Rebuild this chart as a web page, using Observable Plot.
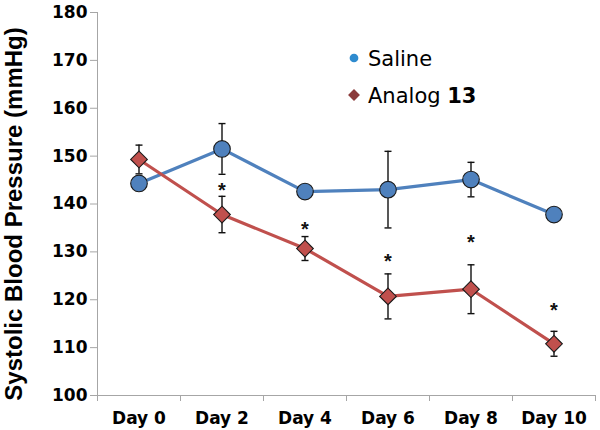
<!DOCTYPE html>
<html>
<head>
<meta charset="utf-8">
<script src="https://cdn.jsdelivr.net/npm/d3@7"></script>
<script src="https://cdn.jsdelivr.net/npm/@observablehq/plot@0.6"></script>
<style>
  html, body { margin: 0; padding: 0; background: #fff; }
  #wrap { position: relative; width: 600px; height: 430px; }
  #legend { position: absolute; left: 0; top: 0; pointer-events: none; }
</style>
</head>
<body>
<div id="wrap"></div>
<script>
const days = ["Day 0", "Day 2", "Day 4", "Day 6", "Day 8", "Day 10"];
const salineMean = [144.3, 151.5, 142.6, 143.0, 145.1, 137.8];
const salineErr  = [0.8, 5.3, 1.0, 8.0, 3.6, 0.6];
const analogMean = [149.3, 137.8, 130.7, 120.7, 122.2, 110.8];
const analogErr  = [3.0, 3.8, 2.5, 4.7, 5.1, 2.6];
const starDays = ["Day 2", "Day 4", "Day 6", "Day 8", "Day 10"];
const starY = [143.9, 135.7, 129.1, 133.0, 118.7];
const yTicks = [100, 110, 120, 130, 140, 150, 160, 170, 180];
const yTitle = "Systolic Blood Pressure (mmHg)";

const blue = "#4f81bd", red = "#c0504d", axisGray = "#a6a6a6";
const tickFont = "'DejaVu Sans', sans-serif";

const saline = days.map((d, i) => ({i, mean: salineMean[i], lo: salineMean[i] - salineErr[i], hi: salineMean[i] + salineErr[i]}));
const analog = days.map((d, i) => ({i, mean: analogMean[i], lo: analogMean[i] - analogErr[i], hi: analogMean[i] + analogErr[i]}));
const stars = starDays.map((d, k) => ({i: days.indexOf(d), y: starY[k]}));
const bounds = d3.range(days.length + 1).map(k => k - 0.5);

const cap = {draw(ctx) { ctx.moveTo(-3.5, 0); ctx.lineTo(3.5, 0); }};

const chart = Plot.plot({
  width: 600, height: 430,
  marginLeft: 97, marginRight: 5, marginTop: 12, marginBottom: 35,
  x: {domain: [-0.5, days.length - 0.5]},
  y: {domain: [100, 180]},
  style: {fontFamily: "'Liberation Sans', Arial, sans-serif", background: "#fff", color: "#000"},
  marks: [
    Plot.ruleX([-0.5], {stroke: axisGray}),
    Plot.ruleY([100], {stroke: axisGray}),
    Plot.axisY(yTicks, {tickSize: 7, tickPadding: 3, stroke: axisGray, fill: "#000", fontSize: 17, fontWeight: "bold", fontFamily: tickFont, label: null}),
    Plot.axisX(bounds, {tickSize: 6, tickFormat: () => "", stroke: axisGray, label: null}),
    Plot.axisX(d3.range(days.length), {tickSize: 0, tickPadding: 16, tickFormat: i => days[i], fill: "#000", fontSize: 17, fontWeight: "bold", fontFamily: tickFont, label: null}),
    Plot.text([yTitle], {frameAnchor: "left", textAnchor: "middle", rotate: -90, dx: -83, dy: 10, fontSize: 24, fontWeight: "bold", fill: "#000"}),
    Plot.line(saline, {x: "i", y: "mean", stroke: blue, strokeWidth: 3.2}),
    Plot.line(analog, {x: "i", y: "mean", stroke: red, strokeWidth: 3.2}),
    Plot.ruleX(saline, {x: "i", y1: "lo", y2: "hi", stroke: "#111", strokeWidth: 1.4}),
    Plot.dot(saline, {x: "i", y: "lo", symbol: cap, stroke: "#111", strokeWidth: 1.4, fill: "none", r: 3}),
    Plot.dot(saline, {x: "i", y: "hi", symbol: cap, stroke: "#111", strokeWidth: 1.4, fill: "none", r: 3}),
    Plot.ruleX(analog, {x: "i", y1: "lo", y2: "hi", stroke: "#111", strokeWidth: 1.4}),
    Plot.dot(analog, {x: "i", y: "lo", symbol: cap, stroke: "#111", strokeWidth: 1.4, fill: "none", r: 3}),
    Plot.dot(analog, {x: "i", y: "hi", symbol: cap, stroke: "#111", strokeWidth: 1.4, fill: "none", r: 3}),
    Plot.dot(saline, {x: "i", y: "mean", r: 8.3, fill: blue, stroke: "#1a1a1a", strokeWidth: 1.1}),
    Plot.dot(analog, {x: "i", y: "mean", r: 7.5, symbol: "diamond2", fill: red, stroke: "#1a1a1a", strokeWidth: 1.1}),
    Plot.text(stars, {x: "i", y: "y", text: () => "*", fontSize: 20, fontWeight: "bold", dy: 5, fill: "#111"})
  ]
});
document.getElementById("wrap").appendChild(chart);

// Legend overlay
const legendItems = [
  {label: "Saline", bold: "", color: "#2e8bcf", symbol: d3.symbolCircle, size: 60},
  {label: "Analog ", bold: "13", color: "#8b3a3a", symbol: d3.symbolDiamond2, size: 90}
];
const lg = d3.select("#wrap").append("svg").attr("id", "legend").attr("width", 600).attr("height", 430);
legendItems.forEach((it, k) => {
  const cy = 58 + k * 37;
  lg.append("path").attr("d", d3.symbol(it.symbol, it.size)()).attr("transform", `translate(${354},${cy})`).attr("fill", it.color);
  const t = lg.append("text").attr("x", 368).attr("y", cy + 7.5)
    .attr("font-family", "'DejaVu Sans', sans-serif").attr("font-size", 21).attr("fill", "#000");
  t.append("tspan").text(it.label);
  if (it.bold) t.append("tspan").attr("font-weight", "bold").text(it.bold);
});
</script>
</body>
</html>
